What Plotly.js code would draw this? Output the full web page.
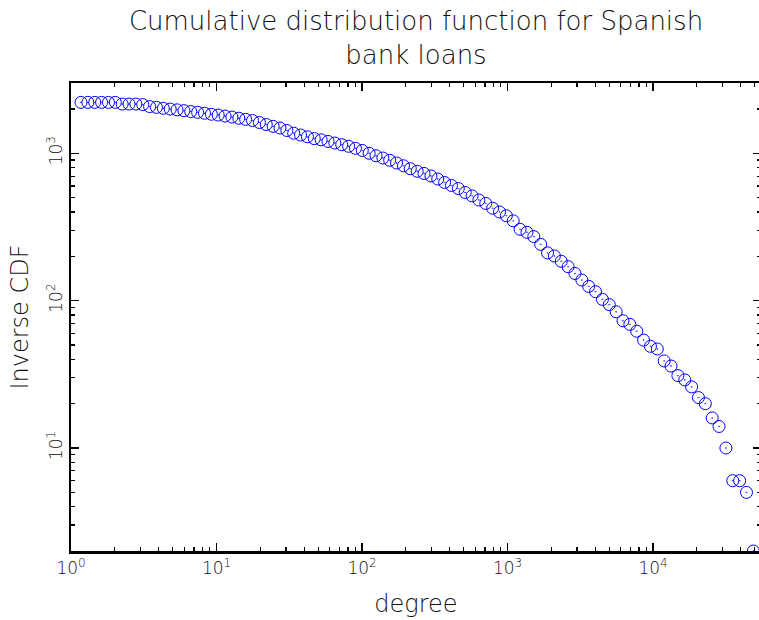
<!DOCTYPE html>
<html>
<head>
<meta charset="utf-8">
<script src="https://cdn.plot.ly/plotly-3.0.1.min.js"></script>
<style>
html, body { margin: 0; padding: 0; overflow: hidden; background: #fff; }
#chart { width: 762px; height: 620px; }
</style>
</head>
<body>
<div id="chart"></div>
<script>
// Degree (log-binned)
const degree = [
  1.171, 1.306, 1.455, 1.623, 1.809, 2.016, 2.247, 2.505, 2.792, 3.112,
  3.469, 3.867, 4.311, 4.805, 5.356, 5.970, 6.655, 7.418, 8.270, 9.218,
  10.27, 11.45, 12.76, 14.23, 15.86, 17.68, 19.71, 21.97, 24.49, 27.30,
  30.43, 33.92, 37.81, 42.15, 46.98, 52.36, 58.37, 65.06, 72.53, 80.84,
  90.11, 100.4, 111.9, 124.8, 139.1, 155.0, 172.8, 192.7, 214.7, 239.4,
  266.8, 297.5, 331.5, 369.6, 412.0, 459.2, 511.8, 570.6, 636.0, 708.9,
  790.2, 880.9, 981.8, 1094, 1220, 1360, 1516, 1690, 1883, 2099,
  2340, 2609, 2908, 3242, 3613, 4027, 4489, 5004, 5578, 6218,
  6930, 7726, 8610, 9598, 10700, 11930, 13290, 14820, 16520, 18410,
  20520, 22880, 25500, 28430, 31680, 35320, 39370, 43880, 48920
];

// Inverse CDF values
const inverseCDF = [
  2217, 2217, 2217, 2217, 2217, 2217, 2159, 2159, 2159, 2142,
  2076, 2050, 2021, 1996, 1972, 1947, 1920, 1897, 1870, 1841,
  1818, 1790, 1762, 1730, 1700, 1669, 1618, 1568, 1524, 1484,
  1428, 1369, 1331, 1294, 1258, 1235, 1204, 1174, 1144, 1116,
  1081, 1046, 1000, 962, 929, 897, 860, 823, 786, 755,
  730, 702, 669, 634, 605, 577, 542, 514, 482, 457,
  424, 400, 377, 348, 305, 291, 272, 241, 211, 201,
  185, 170, 153, 138, 125, 115, 102, 94, 84, 73,
  69, 62, 54, 49, 47, 39, 36, 31, 29, 26,
  22, 20, 16, 14, 10, 6, 6, 5, 2
];

const xTickVals = [1, 10, 100, 1000, 10000];
const xTickText = ['10<sup>0</sup>', '10<sup>1</sup>', '10<sup>2</sup>', '10<sup>3</sup>', '10<sup>4</sup>'];
const yTickVals = [10, 100, 1000];
const yTickText = ['10<sup>1</sup>', '10<sup>2</sup>', '10<sup>3</sup>'];

const FONT = 'DejaVu Sans, Liberation Sans, sans-serif';
const TXT = '#111';

const trace = {
  x: degree,
  y: inverseCDF,
  type: 'scatter',
  mode: 'markers',
  marker: {
    symbol: 'circle-open-dot',
    size: 12,
    color: 'rgb(0,0,255)',
    line: { color: 'rgb(0,0,255)', width: 1 }
  },
  hoverinfo: 'x+y',
  showlegend: false
};

const axisCommon = {
  type: 'log',
  showgrid: false,
  zeroline: false,
  showline: true,
  linecolor: '#000',
  linewidth: 2.5,
  mirror: 'ticks',
  ticks: 'inside',
  ticklen: 8,
  tickwidth: 1.2,
  tickcolor: '#000',
  tickmode: 'array',
  minor: { ticks: 'inside', ticklen: 4, tickwidth: 1.2, tickcolor: '#000', dtick: 'D1', showgrid: false },
  tickfont: { family: FONT, size: 17, color: TXT, weight: 300 }
};

const layout = {
  width: 762,
  height: 620,
  margin: { l: 71, r: 1, t: 83, b: 69 },
  paper_bgcolor: '#fff',
  plot_bgcolor: '#fff',
  title: {
    text: 'Cumulative distribution function for Spanish<br>bank loans',
    font: { family: FONT, size: 26, color: TXT, weight: 300 },
    x: 0.5,
    xref: 'paper',
    xanchor: 'center',
    y: 0.952,
    yref: 'container',
    yanchor: 'top'
  },
  xaxis: Object.assign({}, axisCommon, {
    range: [0, 4.742],
    tickvals: xTickVals,
    ticktext: xTickText,
    title: { text: 'degree', font: { family: FONT, size: 24, color: TXT, weight: 300 }, standoff: 19 }
  }),
  yaxis: Object.assign({}, axisCommon, {
    range: [Math.log10(2), Math.log10(3000)],
    tickvals: yTickVals,
    ticktext: yTickText,
    tickangle: -90,
    title: { text: 'Inverse CDF', font: { family: FONT, size: 24, color: TXT, weight: 300 }, standoff: 8 }
  })
};

Plotly.newPlot('chart', [trace], layout, { displayModeBar: false, staticPlot: true });
</script>
</body>
</html>
